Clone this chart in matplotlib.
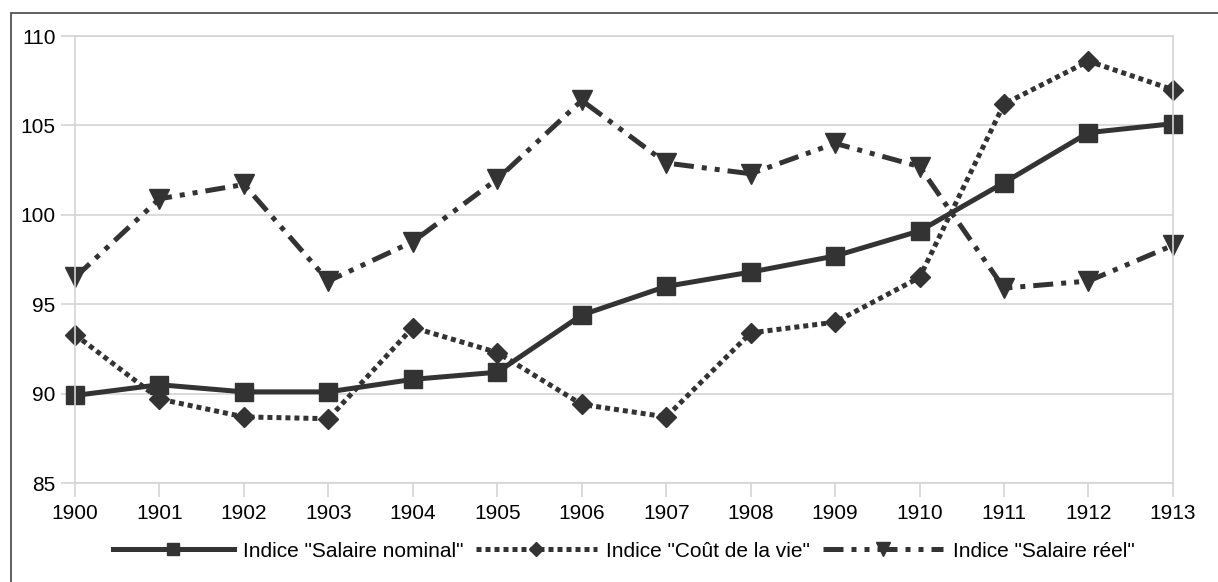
import matplotlib.pyplot as plt
from matplotlib.patches import Rectangle

years = list(range(1900, 1914))
salaire_nominal = [89.9, 90.5, 90.1, 90.1, 90.8, 91.2, 94.4, 96.0, 96.8, 97.7, 99.1, 101.8, 104.6, 105.1]
cout_vie = [93.3, 89.7, 88.7, 88.6, 93.7, 92.3, 89.4, 88.7, 93.4, 94.0, 96.5, 106.2, 108.6, 107.0]
salaire_reel = [96.5, 100.9, 101.7, 96.3, 98.5, 102.0, 106.4, 102.9, 102.3, 104.0, 102.7, 95.9, 96.3, 98.3]

labels = ['Indice "Salaire nominal"', 'Indice "Coût de la vie"', 'Indice "Salaire réel"']

plt.rcParams['font.family'] = ['Liberation Sans', 'DejaVu Sans']
plt.rc('font', size=15)

dark = '#333333'
grid = '#d4d4d4'
lw = 3.6

fig = plt.figure(figsize=(12.18, 5.82), dpi=100)
ax = fig.add_axes([0.0616, 0.170, 0.9014, 0.768])

ax.plot(years, salaire_nominal, color=dark, lw=lw, marker='s', markersize=13,
        label=labels[0], clip_on=False)
ax.plot(years, cout_vie, color=dark, lw=lw, marker='D', markersize=10,
        linestyle=(0, (1.0, 0.8)), label=labels[1], clip_on=False)
ax.plot(years, salaire_reel, color=dark, lw=lw, marker='v', markersize=15,
        linestyle=(0, (4, 1.6, 1, 1.6, 1, 1.6)), label=labels[2], clip_on=False)

ax.set_xlim(1900, 1913)
ax.set_ylim(85, 110)
ax.set_xticks(years)
ax.set_yticks(range(85, 111, 5))
ax.yaxis.grid(True, color=grid, lw=1.2)
ax.set_axisbelow(True)
for s in ax.spines.values():
    s.set_color(grid)
    s.set_linewidth(1.2)
ax.tick_params(axis='both', colors=grid, length=10, width=1.2, labelcolor='black',
               labelsize=15)
ax.tick_params(axis='x', pad=5)
ax.tick_params(axis='y', pad=4)

leg = fig.legend(loc='center', bbox_to_anchor=(0.512, 0.053), ncol=3,
                 frameon=False, handlelength=5.8, markerscale=0.7,
                 columnspacing=0.6, handletextpad=0.45, fontsize=15)

fig.patches.append(Rectangle((11 / 1218, -0.05), 1.2, 1.05 - 13 / 582,
                             transform=fig.transFigure, fill=False,
                             edgecolor='#444444', lw=1.2))

fig.savefig('out.png', dpi=100)
